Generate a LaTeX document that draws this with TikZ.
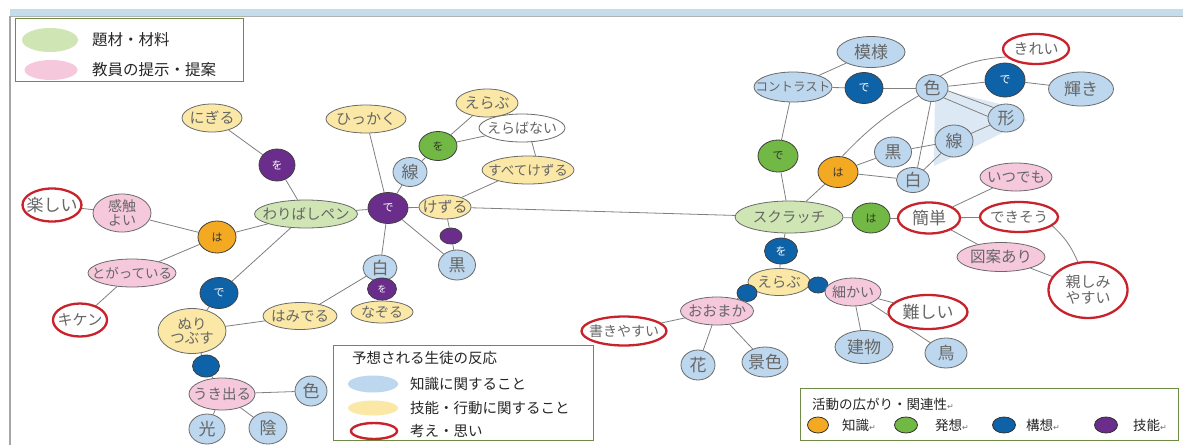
\documentclass[tikz,border=0pt]{standalone}
\usepackage{fontspec}
\newfontfamily\jp{Noto Sans CJK JP}
\newfontfamily\djv{DejaVu Sans}
\usetikzlibrary{shapes.geometric,backgrounds}
\definecolor{knowc}{HTML}{BDD7EE}
\definecolor{skillc}{HTML}{FBE8A6}
\definecolor{teachc}{HTML}{F6C8DC}
\definecolor{matc}{HTML}{CFE6B4}
\definecolor{redc}{HTML}{C8232C}
\definecolor{purc}{HTML}{6B2D8C}
\definecolor{bluc}{HTML}{0E62A8}
\definecolor{grnc}{HTML}{72B844}
\definecolor{orgc}{HTML}{F4A922}
\definecolor{outc}{HTML}{6A6A6A}
\definecolor{edgec}{HTML}{808080}
\definecolor{hwc}{HTML}{666666}
\definecolor{legc}{HTML}{6E8C46}
\definecolor{bandc}{HTML}{C5DCEA}
\definecolor{shadec}{HTML}{DCE9F5}
\tikzset{
 hw/.style={ellipse, draw=outc, line width=0.8pt, inner xsep=-14pt, inner ysep=-7pt, text=hwc, font=\jp\fontsize{13.5}{14}\selectfont, align=center},
 kn/.style={hw, fill=knowc},
 sk/.style={hw, fill=skillc},
 tp/.style={hw, fill=teachc},
 mt/.style={hw, fill=matc},
 th/.style={hw, draw=redc, line width=2.3pt, fill=white},
 sz/.style 2 args={minimum width=#1pt, minimum height=#2pt},
 big/.style={font=\jp\fontsize{17}{18}\selectfont},
 lng/.style={font=\jp\fontsize{12.5}{13}\selectfont},
 jc/.style={ellipse, draw=black!75, line width=0.8pt, inner sep=0pt, font=\jp\fontsize{11}{12}\selectfont},
 pc/.style={jc, fill=purc, text=white},
 bc/.style={jc, fill=bluc, text=white},
 gc/.style={jc, fill=grnc, text=black!80},
 oc/.style={jc, fill=orgc, text=black!80},
 cn/.style={draw=edgec, line width=0.8pt},
 legtxt/.style={font=\jp\fontsize{14.5}{16}\selectfont, anchor=west, inner sep=0pt, text=black!85},
 legbox/.style={draw=legc, line width=1.2pt, fill=white, inner sep=0pt, anchor=north west},
 legell/.style={ellipse, inner sep=0pt},
 ltx/.style={legtxt, font=\jp\fontsize{13.5}{14}\selectfont},
}
\newcommand{\rtn}{{\djv\fontsize{8}{9}\selectfont\color{black!55}↵}}
\begin{document}
\begin{tikzpicture}[x=1pt,y=-1pt]
\useasboundingbox (0,0) rectangle (1183,445);

% ---------- left cluster ----------
\node[th, sz={59}{33}, big] (tan) at (52,205) {楽しい};
\node[tp, sz={58}{38}, font=\jp\fontsize{14}{14}\selectfont] (kan) at (122,213) {感触\\よい};
\node[oc, sz={38}{32}] (ha1) at (217,237) {は};
\node[mt, sz={103}{28}, font=\jp\fontsize{14.5}{15}\selectfont] (wari) at (306,214) {わりばしペン};
\node[pc, sz={36}{32}] (wo1) at (277,165) {を};
\node[sk, sz={60}{28}, font=\jp\fontsize{15}{15}\selectfont] (nig) at (212,118) {にぎる};
\node[tp, sz={88}{28}] (toga) at (132,273) {とがっている};
\node[th, sz={54}{33}, font=\jp\fontsize{15}{15}\selectfont] (kiken) at (80,320) {キケン};
\node[bc, sz={38}{31}] (de1) at (219,293) {で};
\node[sk, sz={68}{45}, font=\jp\fontsize{14.5}{14.5}\selectfont] (nuri) at (192,331) {ぬり\\つぶす};
\node[sk, sz={74}{27}, font=\jp\fontsize{14.5}{15}\selectfont] (hami) at (300,316) {はみでる};
\node[bc, sz={27}{22}] (bd1) at (206,366) {};
\node[tp, sz={66}{32}, font=\jp\fontsize{14.5}{15}\selectfont] (uki) at (222,394) {うき出る};
\node[kn, sz={32}{30}, big] (iro1) at (311,391) {色};
\node[kn, sz={36}{30}, big] (hik) at (207,429) {光};
\node[kn, sz={38}{32}, big] (kage) at (268,428) {陰};

% ---------- middle cluster ----------
\node[pc, sz={40}{31}] (de2) at (388,208) {で};
\node[sk, sz={80}{28}, font=\jp\fontsize{15}{15}\selectfont] (hikk) at (366,119) {ひっかく};
\node[kn, sz={34}{29}, big] (sen1) at (410,172) {線};
\node[gc, sz={38}{29}] (wo2) at (438,146) {を};
\node[sk, sz={62}{28}, font=\jp\fontsize{15}{15}\selectfont] (era1) at (487,103) {えらぶ};
\node[hw, fill=white, sz={86}{28}, font=\jp\fontsize{14}{15}\selectfont] (erab) at (522,128) {えらばない};
\node[sk, sz={92}{28}] (sube) at (528,170) {すべてけずる};
\node[sk, sz={52}{24}, font=\jp\fontsize{15}{15}\selectfont] (kez) at (445,207) {けずる};
\node[pc, sz={22}{16}] (pd) at (451,236) {};
\node[kn, sz={37}{30}, big] (kuro1) at (457,265) {黒};
\node[kn, sz={34}{26}, big] (shiro1) at (380,268) {白};
\node[pc, sz={29}{22}, font=\jp\fontsize{9}{10}\selectfont] (wo3) at (382,289) {を};
\node[sk, sz={62}{22}, font=\jp\fontsize{14}{15}\selectfont] (nazo) at (382,312) {なぞる};

% ---------- right cluster ----------
\node[mt, sz={108}{32}, font=\jp\fontsize{14.5}{15}\selectfont] (scr) at (789,217) {スクラッチ};
\node[gc, sz={40}{32}] (de3) at (778,156) {で};
\node[kn, sz={78}{30}, lng] (con) at (793,87) {コントラスト};
\node[kn, sz={68}{31}, big] (moy) at (871,52) {模様};
\node[bc, sz={38}{31}] (de4) at (864,88) {で};
\node[kn, sz={32}{27}, big] (iro2) at (932,88) {色};
\node[bc, sz={40}{34}] (de5) at (1005,80) {で};
\node[th, sz={66}{30}, font=\jp\fontsize{15}{15}\selectfont] (kir) at (1036,49) {きれい};
\node[kn, sz={65}{34}, big] (kag) at (1081,89) {輝き};
\node[kn, sz={36}{28}, big] (kata) at (1006,118) {形};
\node[kn, sz={38}{32}, big] (sen2) at (954,141) {線};
\node[kn, sz={37}{30}, big] (kuro2) at (893,152) {黒};
\node[kn, sz={33}{25}, big] (shiro2) at (913,180) {白};
\node[oc, sz={40}{31}] (ha2) at (838,172) {は};
\node[gc, sz={38}{30}] (ha3) at (871,218) {は};
\node[th, sz={62}{31}, big] (kan2) at (929,218) {簡単};
\node[tp, sz={72}{28}, font=\jp\fontsize{14.5}{15}\selectfont] (itsu) at (1016,177) {いつでも};
\node[th, sz={78}{30}, font=\jp\fontsize{14.5}{15}\selectfont] (deki) at (1019,217) {できそう};
\node[tp, sz={88}{29}, font=\jp\fontsize{15.5}{16}\selectfont] (zuan) at (1001,257) {図案あり};
\node[th, sz={79}{56}, font=\jp\fontsize{15}{16}\selectfont] (shita) at (1088,290) {親しみ\\やすい};
\node[bc, sz={33}{26}] (wo4) at (781,251) {を};
\node[sk, sz={62}{27}, font=\jp\fontsize{14.5}{15}\selectfont] (era2) at (779,282) {えらぶ};
\node[bc, sz={20}{17}] (bdl) at (747,293) {};
\node[bc, sz={20}{16}] (bdr) at (818,285) {};
\node[tp, sz={56}{28}, font=\jp\fontsize{14}{15}\selectfont] (koma) at (853,292) {細かい};
\node[th, sz={79}{34}, big] (muzu) at (928,312) {難しい};
\node[kn, sz={58}{33}, big] (tate) at (864,347) {建物};
\node[kn, sz={42}{30}, big] (tori) at (946,353) {鳥};
\node[tp, sz={73}{28}, font=\jp\fontsize{14.5}{15}\selectfont] (ooma) at (717,311) {おおまか};
\node[th, sz={85}{29}, font=\jp\fontsize{14}{15}\selectfont] (kaki) at (624,331) {書きやすい};
\node[kn, sz={34}{30}, big] (hana) at (698,365) {花};
\node[kn, sz={46}{30}, big] (kesh) at (765,362) {景色};

% ---------- legends ----------
\node[legbox, minimum width=228pt, minimum height=63pt] (lg1) at (15,18) {};
\node[legell, fill=matc, sz={56}{24}] (lg1a) at (50,40) {};
\node[legtxt, font=\jp\fontsize{15.5}{16}\selectfont] (lg1at) at (92,40) {題材・材料};
\node[legell, fill=teachc, sz={53}{20}] (lg1b) at (51,70) {};
\node[legtxt, font=\jp\fontsize{15.5}{16}\selectfont] (lg1bt) at (92,70) {教員の提示・提案};

\node[legbox, minimum width=260pt, minimum height=95pt] (lg2) at (333,345) {};
\node[legtxt] (lg2t) at (352,358) {予想される生徒の反応};
\node[legell, fill=knowc, sz={50}{17}] (lg2a) at (373,384) {};
\node[legtxt] (lg2at) at (410,384) {知識に関すること};
\node[legell, fill=skillc, sz={50}{15}] (lg2b) at (373,408) {};
\node[legtxt] (lg2bt) at (410,408) {技能・行動に関すること};
\node[legell, draw=redc, line width=2.4pt, sz={46}{16}] (lg2c) at (374,431) {};
\node[legtxt] (lg2ct) at (410,431) {考え・思い};

\node[legbox, minimum width=378pt, minimum height=52pt] (lg3) at (800,388) {};
\node[ltx] (lg3t) at (812,404) {活動の広がり・関連性\rtn};
\node[legell, draw=black!80, line width=0.8pt, fill=orgc, sz={21}{16}] (lg3a) at (818,425) {};
\node[ltx] (lg3at) at (842,425) {知識\rtn};
\node[legell, draw=black!80, line width=0.8pt, fill=grnc, sz={23}{16}] (lg3b) at (906,425) {};
\node[ltx] (lg3bt) at (935,425) {発想\rtn};
\node[legell, draw=black!80, line width=0.8pt, fill=bluc, sz={23}{16}] (lg3c) at (1004,425) {};
\node[ltx] (lg3ct) at (1026,425) {構想\rtn};
\node[legell, draw=black!80, line width=0.8pt, fill=purc, sz={23}{16}] (lg3d) at (1106,425) {};
\node[ltx] (lg3dt) at (1133,425) {技能\rtn};

% ---------- background: frame, shading, connectors ----------
\begin{pgfonlayer}{background}
\fill[white] (0,0) rectangle (1183,445);
\fill[bandc] (10,9) rectangle (1183,16);
\draw[gray!60, line width=0.6pt] (10,16) -- (1183,16);
\draw[gray!70, line width=1.5pt] (10,16) -- (10,445);
\fill[shadec] (935,88) -- (1000,104) -- (1027,120) -- (1000,134) -- (962,153) -- (934,166) -- cycle;

\draw[cn] (tan) -- (kan);
\draw[cn] (kan) -- (ha1);
\draw[cn] (ha1) -- (wari);
\draw[cn] (ha1) -- (toga);
\draw[cn] (toga) -- (kiken);
\draw[cn] (wari) -- (wo1);
\draw[cn] (wo1) -- (nig);
\draw[cn] (wari) -- (de1);
\draw[cn] (de1) -- (nuri);
\draw[cn] (nuri) -- (hami);
\draw[cn] (nuri) -- (bd1);
\draw[cn] (bd1) -- (uki);
\draw[cn] (uki) -- (iro1);
\draw[cn] (uki) -- (hik);
\draw[cn] (uki) -- (kage);

\draw[cn] (wari) -- (de2);
\draw[cn] (de2) -- (hikk);
\draw[cn] (de2) -- (sen1);
\draw[cn] (sen1) -- (wo2);
\draw[cn] (wo2) -- (era1);
\draw[cn] (wo2) -- (erab);
\draw[cn] (erab.-55) -- (sube.62);
\draw[cn] (kez.30) -- (sube.200);
\draw[cn] (de2) -- (kez);
\draw[cn] (kez) -- (pd);
\draw[cn] (pd) -- (kuro1);
\draw[cn] (de2) -- (kuro1);
\draw[cn] (de2) -- (shiro1);
\draw[cn] (shiro1) -- (wo3);
\draw[cn] (wo3) -- (nazo);
\draw[cn] (shiro1) -- (hami);
\draw[cn] (kez) -- (scr);

\draw[cn] (scr) -- (de3);
\draw[cn] (de3) -- (con);
\draw[cn] (con) -- (moy);
\draw[cn] (con) -- (de4);
\draw[cn] (de4) -- (iro2);
\draw[cn] (iro2) -- (de5);
\draw[cn] (de5) -- (kag);
\draw[cn] (iro2.-10) -- (kata.140);
\draw[cn] (iro2.-40) -- (kata.175);
\draw[cn] (iro2.-95) -- (shiro2.70);
\draw[cn] (iro2.55) to[bend left=12] (kir.195);
\draw[cn] (ha2.75) to[bend left=8] (iro2.210);
\draw[cn] (ha2) -- (kuro2);
\draw[cn] (ha2) -- (shiro2);
\draw[cn] (kuro2) -- (sen2);
\draw[cn] (sen2) -- (kata);
\draw[cn] (sen2) -- (shiro2);
\draw[cn] (scr) -- (ha2);
\draw[cn] (scr) -- (ha3);
\draw[cn] (ha3) -- (kan2);
\draw[cn] (kan2) -- (itsu);
\draw[cn] (kan2) -- (deki);
\draw[cn] (kan2) -- (zuan);
\draw[cn] (zuan) -- (shita);
\draw[cn] (deki.-15) to[bend left=12] (shita.110);
\draw[cn] (scr) -- (wo4);
\draw[cn] (wo4) -- (era2);
\draw[cn] (era2) -- (bdl);
\draw[cn] (era2) -- (bdr);
\draw[cn] (bdl) -- (ooma);
\draw[cn] (bdr) -- (koma);
\draw[cn] (ooma) -- (kaki);
\draw[cn] (ooma) -- (hana);
\draw[cn] (ooma) -- (kesh);
\draw[cn] (koma) -- (muzu);
\draw[cn] (koma) -- (tate);
\draw[cn] (koma) -- (tori);
\end{pgfonlayer}
\end{tikzpicture}
\end{document}
